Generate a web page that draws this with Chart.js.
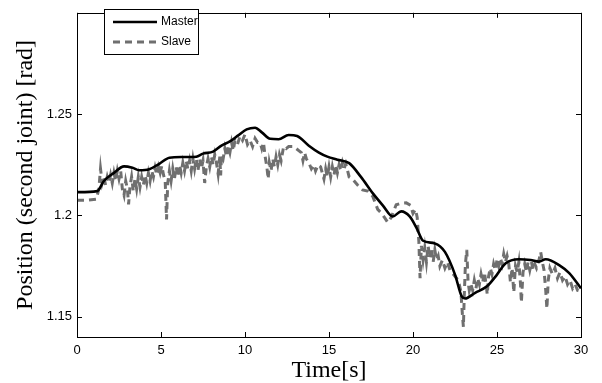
<!DOCTYPE html>
<html>
<head>
<meta charset="utf-8">
<script src="https://cdn.jsdelivr.net/npm/chart.js@4"></script>
<style>
  html, body { margin: 0; padding: 0; background: #fff; }
  #wrap { width: 602px; height: 383px; }
</style>
</head>
<body>
<div id="wrap"><canvas id="chartCanvas" width="602" height="383"></canvas></div>
<script>
// Master trajectory (time [s], position [rad])
const masterTime = [0, 1.2, 1.6, 2.2, 2.8, 3.3, 3.7, 4.3, 4.9, 5.5, 6.2, 6.7, 7.1, 7.5, 8.1, 8.6, 9.1, 9.6, 10.1, 10.6,
  11.0, 11.5, 12.0, 12.6, 13.1, 13.8, 14.4, 14.9, 15.5, 16.2, 16.9, 17.6, 18.2, 18.8, 19.3, 19.8, 20.2, 20.6, 21.3,
  21.9, 22.5, 22.9, 23.1, 23.7, 24.4, 25.0, 25.5, 26.3, 27.0, 27.5, 27.9, 28.7, 29.3, 30];
const masterPos = [1.2115, 1.212, 1.217, 1.221, 1.2242, 1.2235, 1.2223, 1.2228, 1.2255, 1.2285, 1.2288, 1.2288, 1.229, 1.2305, 1.2315, 1.2345, 1.2365, 1.2395, 1.2425, 1.2433,
  1.241, 1.2378, 1.2376, 1.2397, 1.2392, 1.2344, 1.231, 1.229, 1.2275, 1.2258, 1.219, 1.211, 1.205, 1.1995, 1.202, 1.1995, 1.194, 1.1875, 1.1862,
  1.182, 1.1708, 1.160, 1.159, 1.1618, 1.165, 1.1708, 1.1763, 1.1784, 1.178, 1.1772, 1.1784, 1.1755, 1.1715, 1.164];

// Slave trajectory (time [s], position [rad]) - noisy
const slaveTime = [0, 0.6, 1.15, 1.3, 1.4, 1.5, 1.6, 1.7, 1.8, 1.9, 2.0, 2.1, 2.2, 2.3, 2.4, 2.5, 2.6, 2.7, 2.8, 2.9,
  3.0, 3.07, 3.15, 3.25, 3.35, 3.45, 3.55, 3.65, 3.75, 3.85, 3.95, 4.05, 4.15, 4.25, 4.35, 4.45, 4.55, 4.65, 4.75, 4.85,
  4.95, 5.05, 5.15, 5.25, 5.33, 5.4, 5.5, 5.6, 5.7, 5.8, 5.9, 6.0, 6.1, 6.2, 6.3, 6.4, 6.5, 6.6, 6.7, 6.8,
  6.9, 7.0, 7.1, 7.2, 7.3, 7.4, 7.5, 7.6, 7.7, 7.8, 7.9, 8.0, 8.1, 8.2, 8.3, 8.4, 8.5, 8.55, 8.6, 8.7,
  8.8, 8.9, 9.0, 9.1, 9.2, 9.3, 9.4, 9.55, 9.7, 9.85, 10.0, 10.15, 10.3, 10.45, 10.6, 10.75, 10.9, 11.0, 11.1, 11.2,
  11.3, 11.38, 11.45, 11.55, 11.65, 11.75, 11.85, 11.95, 12.05, 12.15, 12.3, 12.45, 12.6, 12.75, 12.9, 13.05, 13.2, 13.35, 13.45, 13.55,
  13.65, 13.8, 13.95, 14.1, 14.2, 14.35, 14.5, 14.6, 14.7, 14.8, 14.9, 15.0, 15.1, 15.2, 15.3, 15.4, 15.5, 15.6, 15.7, 15.8,
  15.9, 16.0, 16.2, 16.4, 16.7, 17.0, 17.3, 17.6, 17.9, 18.1, 18.3, 18.5, 18.7, 19.0, 19.3, 19.6, 19.85, 20.0, 20.15, 20.25,
  20.35, 20.42, 20.5, 20.6, 20.7, 20.8, 20.9, 21.0, 21.1, 21.2, 21.3, 21.4, 21.5, 21.6, 21.75, 21.9, 22.05, 22.2, 22.4, 22.6,
  22.75, 22.85, 22.95, 23.0, 23.05, 23.12, 23.2, 23.28, 23.35, 23.45, 23.55, 23.65, 23.75, 23.85, 23.95, 24.05, 24.15, 24.25, 24.35, 24.42,
  24.5, 24.6, 24.7, 24.8, 24.9, 25.0, 25.1, 25.2, 25.3, 25.4, 25.5, 25.6, 25.7, 25.8, 25.9, 26.0, 26.1, 26.2, 26.3, 26.4,
  26.45, 26.55, 26.65, 26.75, 26.85, 26.95, 27.05, 27.15, 27.25, 27.35, 27.5, 27.6, 27.7, 27.8, 27.9, 27.97, 28.05, 28.15, 28.3, 28.45,
  28.6, 28.75, 28.9, 29.05, 29.2, 29.35, 29.5, 29.65, 29.8, 30];
const slavePos = [1.2075, 1.2075, 1.208, 1.213, 1.223, 1.216, 1.219, 1.215, 1.219, 1.216, 1.22, 1.216, 1.221, 1.217, 1.222, 1.218, 1.222, 1.213, 1.21, 1.217,
  1.213, 1.2055, 1.214, 1.219, 1.212, 1.218, 1.213, 1.219, 1.214, 1.219, 1.215, 1.22, 1.216, 1.221, 1.217, 1.222, 1.219, 1.2235, 1.22, 1.224,
  1.221, 1.2245, 1.22, 1.217, 1.198, 1.216, 1.222, 1.217, 1.223, 1.218, 1.224, 1.219, 1.225, 1.221, 1.226, 1.222, 1.227, 1.223, 1.227, 1.222,
  1.228, 1.223, 1.228, 1.222, 1.228, 1.223, 1.227, 1.216, 1.224, 1.228, 1.224, 1.229, 1.225, 1.23, 1.226, 1.2205, 1.229, 1.2197, 1.23, 1.228,
  1.233, 1.229, 1.234, 1.231, 1.236, 1.232, 1.237, 1.235, 1.239, 1.237, 1.24, 1.235, 1.237, 1.234, 1.238, 1.236, 1.236, 1.233, 1.236, 1.229,
  1.224, 1.218, 1.226, 1.222, 1.228, 1.224, 1.229, 1.225, 1.23, 1.227, 1.234, 1.233, 1.234, 1.234, 1.234, 1.233, 1.232, 1.231, 1.227, 1.231,
  1.228, 1.226, 1.223, 1.225, 1.222, 1.225, 1.224, 1.221, 1.218, 1.223, 1.219, 1.224, 1.219, 1.224, 1.22, 1.225, 1.221, 1.225, 1.222, 1.226,
  1.223, 1.2255, 1.219, 1.218, 1.215, 1.2126, 1.212, 1.2095, 1.203, 1.2013, 1.199, 1.1965, 1.199, 1.2053, 1.206, 1.2062, 1.205, 1.201, 1.203, 1.199,
  1.187, 1.169, 1.185, 1.178, 1.184, 1.177, 1.185, 1.179, 1.184, 1.177, 1.183, 1.178, 1.18, 1.175, 1.178, 1.174, 1.177, 1.173, 1.171, 1.169,
  1.166, 1.1625, 1.15, 1.145, 1.16, 1.176, 1.183, 1.167, 1.163, 1.166, 1.163, 1.168, 1.164, 1.169, 1.166, 1.171, 1.167, 1.172, 1.166, 1.161,
  1.17, 1.174, 1.171, 1.176, 1.173, 1.178, 1.175, 1.179, 1.176, 1.181, 1.177, 1.18, 1.176, 1.167, 1.174, 1.162, 1.175, 1.172, 1.177, 1.166,
  1.157, 1.172, 1.176, 1.172, 1.177, 1.173, 1.177, 1.173, 1.176, 1.174, 1.178, 1.182, 1.177, 1.173, 1.163, 1.154, 1.168, 1.174, 1.171, 1.174,
  1.169, 1.172, 1.168, 1.17, 1.166, 1.168, 1.164, 1.166, 1.163, 1.1625];

const xTicks = [0, 5, 10, 15, 20, 25, 30];
const yTicks = [1.15, 1.2, 1.25];

function toPoints(t, v) {
  return t.map((x, i) => ({ x: x, y: v[i] }));
}

// frame with inward ticks on all four sides, matlab style
const framePlugin = {
  id: "frame",
  afterDraw(chart) {
    const ctx = chart.ctx;
    const a = chart.chartArea;
    const xs = chart.scales.x, ys = chart.scales.y;
    ctx.save();
    ctx.strokeStyle = "#000";
    ctx.lineWidth = 1;
    ctx.strokeRect(Math.round(a.left) + 0.5, Math.round(a.top) + 0.5, Math.round(a.right - a.left), Math.round(a.bottom - a.top));
    ctx.beginPath();
    xTicks.forEach(t => {
      const px = Math.round(xs.getPixelForValue(t)) + 0.5;
      ctx.moveTo(px, a.bottom); ctx.lineTo(px, a.bottom - 5);
      ctx.moveTo(px, a.top); ctx.lineTo(px, a.top + 5);
    });
    yTicks.forEach(t => {
      const py = Math.round(ys.getPixelForValue(t)) + 0.5;
      ctx.moveTo(a.left, py); ctx.lineTo(a.left + 5, py);
      ctx.moveTo(a.right, py); ctx.lineTo(a.right - 5, py);
    });
    ctx.stroke();

    // legend box
    const bx = 104.5, by = 9.5, bw = 94, bh = 45;
    ctx.fillStyle = "#fff";
    ctx.fillRect(bx, by, bw, bh);
    ctx.strokeRect(bx, by, bw, bh);
    ctx.font = "12px 'Liberation Sans', Arial, sans-serif";
    ctx.textBaseline = "middle";
    chart.data.datasets.forEach((ds, i) => {
      const ly = 22 + i * 20;
      ctx.beginPath();
      ctx.strokeStyle = ds.borderColor;
      ctx.lineWidth = ds.borderWidth;
      ctx.setLineDash(ds.borderDash || []);
      ctx.moveTo(113, ly); ctx.lineTo(157, ly);
      ctx.stroke();
      ctx.setLineDash([]);
      ctx.fillStyle = "#000";
      ctx.fillText(ds.label, 161, ly);
    });
    ctx.restore();
  }
};

const ctx = document.getElementById("chartCanvas").getContext("2d");
const chart = new Chart(ctx, {
  type: "line",
  data: {
    datasets: [{
      label: "Master",
      data: toPoints(masterTime, masterPos),
      borderColor: "#000",
      borderWidth: 2.6,
      pointRadius: 0,
      cubicInterpolationMode: "monotone",
      fill: false,
      order: 1
    }, {
      label: "Slave",
      data: toPoints(slaveTime, slavePos),
      borderColor: "#6f6f6f",
      borderWidth: 3,
      borderDash: [7, 5],
      pointRadius: 0,
      tension: 0,
      fill: false,
      order: 2
    }]
  },
  options: {
    responsive: false,
    animation: false,
    layout: { padding: { left: 0, right: 21, top: 7, bottom: 0 } },
    plugins: {
      legend: { display: false },
      tooltip: { enabled: false }
    },
    scales: {
      x: {
        type: "linear",
        min: 0, max: 30,
        afterFit: s => { s.height = 46; },
        afterBuildTicks: s => { s.ticks = xTicks.map(v => ({ value: v })); },
        grid: { display: false, drawTicks: false },
        border: { display: false },
        ticks: {
          color: "#000",
          padding: 6,
          maxRotation: 0,
          font: { family: "'Liberation Sans', Arial, sans-serif", size: 13 }
        },
        title: {
          display: true,
          text: "Time[s]",
          color: "#000",
          padding: { top: 0, bottom: -2 },
          font: { family: "'Liberation Serif', 'Times New Roman', serif", size: 24 }
        }
      },
      y: {
        type: "linear",
        min: 1.14, max: 1.30,
        afterFit: s => { s.width = 77; },
        afterBuildTicks: s => { s.ticks = yTicks.map(v => ({ value: v })); },
        grid: { display: false, drawTicks: false },
        border: { display: false },
        ticks: {
          color: "#000",
          padding: 5,
          callback: v => String(v),
          font: { family: "'Liberation Sans', Arial, sans-serif", size: 13 }
        },
        title: {
          display: true,
          text: "Position (second joint) [rad]",
          color: "#000",
          padding: { top: 11, bottom: 0 },
          font: { family: "'Liberation Serif', 'Times New Roman', serif", size: 24 }
        }
      }
    }
  },
  plugins: [framePlugin]
});
</script>
</body>
</html>
